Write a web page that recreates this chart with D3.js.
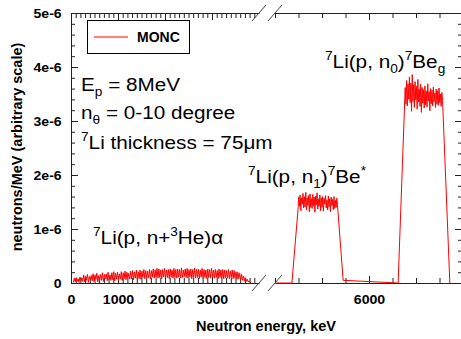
<!DOCTYPE html>
<html><head><meta charset="utf-8">
<script src="https://cdn.jsdelivr.net/npm/d3@7"></script>
<style>body{margin:0;background:#fff} svg{display:block}</style>
</head><body><svg id="c" width="461" height="339"></svg>
<script>
// ---------------- DATA (spectrum values in units of 1e-7 neutrons/MeV) ----------------
const valueUnit = 1e-7;
// 7Li(p, n+3He)alpha continuum : bins of 20 keV starting at 50 keV
const lowStart = 50, lowStep = 20;
const lowValues = [
  0.1,0.9,0.2,1.0,0.3,0.8,0.1,1.1,0.4,1.0,
  0.3,1.5,0.2,1.3,0.5,1.6,0.1,1.2,0.6,1.4,
  0.4,1.7,0.3,1.5,0.7,1.8,0.2,1.4,0.6,1.6,
  0.5,1.9,0.3,1.6,0.8,1.7,0.4,2.0,0.6,1.5,
  0.5,1.9,0.6,2.1,0.4,1.8,0.7,2.0,0.5,1.7,
  0.7,2.1,0.5,1.9,0.8,2.2,0.6,2.0,0.9,1.8,
  0.7,2.2,0.8,2.3,0.6,2.0,0.9,2.4,0.7,2.1,
  0.8,2.4,0.7,2.2,1.0,2.5,0.8,2.3,0.9,2.2,
  0.9,2.5,0.8,2.3,1.1,2.6,0.9,2.4,1.0,2.7,
  0.9,2.6,1.0,2.4,0.8,2.5,1.1,2.7,0.9,2.4,
  1.0,2.5,0.8,2.6,1.1,2.4,0.9,2.7,1.0,2.5,
  0.9,2.6,1.1,2.5,0.9,2.8,1.0,2.4,1.2,2.6,
  1.0,2.7,0.9,2.5,1.1,2.6,0.8,2.5,1.0,2.8,
  0.9,2.5,1.0,2.6,0.8,2.4,1.1,2.7,0.9,2.5,
  1.0,2.4,0.8,2.6,1.0,2.5,0.9,2.7,1.1,2.4,
  0.9,2.5,1.0,2.3,0.8,2.6,1.0,2.4,0.9,2.5,
  0.8,2.4,1.0,2.3,0.9,2.5,0.8,2.2,1.0,2.4,
  0.8,2.3,0.9,2.1,0.7,2.0,0.8,1.8,0.6,1.6,
  0.5,1.3,0.4,1.0,0.3,0.7,0.2,0.4,0.1,0.0];
// 7Li(p, n1)7Be* group : bins of 15 keV starting at 4490 keV
const n1Start = 4490, n1Step = 15;
const n1Values = [
  13.6,15.9,14.2,16.3,13.4,15.7,14.6,16.6,13.9,16.0,14.1,16.8,13.5,15.8,14.4,16.2,13.2,16.5,14.0,15.6,
  13.8,16.4,14.3,15.9,13.1,16.1,14.5,16.7,13.7,15.5,14.2,16.3,13.4,15.8,14.0,16.0,13.3,15.7,14.6,16.2,
  13.9,15.4,13.5,16.1,14.1,15.6,13.2,15.9,14.3,15.5,13.6,16.0,13.8,15.3,14.0,15.7,14.4];
// 7Li(p, n0)7Be_g group : bins of 15 keV starting at 6770 keV
const n0Start = 6770, n0Step = 15;
const n0Values = [
  36.2,33.1,37.5,32.8,36.9,34.0,38.1,33.4,37.0,31.8,38.6,33.6,36.7,32.5,37.3,33.9,36.4,32.2,37.7,33.5,
  35.9,32.7,36.8,31.6,36.2,33.3,35.8,32.4,36.5,33.0,35.5,32.6,36.9,33.7,35.4,31.9,36.0,33.2,35.7,32.8,
  36.3,33.6,35.2,32.5,35.9,33.1,35.6,32.9,36.1,33.4,35.0,32.7,35.3,33.8];
// edge points of the right-hand spectrum [energy keV, value]
const edgeBefore = [[4000,0],[4360,0]];
const edgeBetween = [[5450,0.5],[6620,0]];
const edgeAfter = [[7720,0]];

const yMajor = [0,1e-6,2e-6,3e-6,4e-6,5e-6];
const yLabels = ["0","1e-6","2e-6","3e-6","4e-6","5e-6"];
const xMajorLeft = [0,1000,2000,3000];
const xLabelsLeft = ["0","1000","2000","3000"];
const xMajorRight = [6000];
const xLabelsRight = ["6000"];
const seriesName = "MONC";

// ---------------- LAYOUT ----------------
const svg = d3.select("#c");
const L = 71, T = 13, B = 283, Rr = 462;
const xL = d3.scaleLinear().domain([0,4000]).range([71,259]);
const xR = d3.scaleLinear().domain([4000,8000]).range([275,463]);
const y = d3.scaleLinear().domain([0,5e-6]).range([B,T]);
const axisColor = "#222";
const FONT = "'Liberation Sans', Arial, Helvetica, sans-serif";

function styleAxis(g){ g.select(".domain").attr("stroke",axisColor).attr("stroke-width",1);
  g.selectAll(".tick line").attr("stroke",axisColor).attr("stroke-width",1); }

const minorL = d3.range(0,4001,100).filter(v=>v%1000!==0);
const minorR = d3.range(4000,7501,500).filter(v=>v!==6000);
const yMinor = d3.range(0,26).map(i=>i*2e-7).filter((v,i)=>i%5!==0);

function xAxes(scale, minors, majors, labels, pos){
  const gen = pos==="bottom" ? d3.axisBottom : d3.axisTop;
  const yy = pos==="bottom" ? B : T;
  const g1 = svg.append("g").attr("transform",`translate(0,${yy})`)
    .call(gen(scale).tickValues(minors).tickSize(-5).tickSizeOuter(0).tickFormat(""));
  styleAxis(g1);
  const g2 = svg.append("g").attr("transform",`translate(0,${yy})`)
    .call(gen(scale).tickValues(majors).tickSize(-7).tickSizeOuter(0)
      .tickFormat(pos==="bottom" ? ((d,i)=>labels[i]) : ""));
  styleAxis(g2);
  g2.select(".domain").remove();
  if (pos==="bottom"){
    g2.selectAll(".tick text").attr("y",21).attr("dy",0)
      .attr("transform","scale(1.18,1)")
      .style("font-family",FONT).style("font-size","12px").style("font-weight","bold").attr("fill","#000");
  }
}
xAxes(xL, minorL, xMajorLeft, xLabelsLeft, "bottom");
xAxes(xR, minorR, xMajorRight, xLabelsRight, "bottom");
xAxes(xL, minorL, xMajorLeft, xLabelsLeft, "top");
xAxes(xR, minorR, xMajorRight, xLabelsRight, "top");

// y axes
const gy1 = svg.append("g").attr("transform",`translate(${L},0)`)
  .call(d3.axisLeft(y).tickValues(yMinor).tickSize(-4).tickSizeOuter(0).tickFormat(""));
styleAxis(gy1);
const gy2 = svg.append("g").attr("transform",`translate(${L},0)`)
  .call(d3.axisLeft(y).tickValues(yMajor).tickSize(-7).tickSizeOuter(0).tickPadding(0).tickFormat((d,i)=>yLabels[i]));
styleAxis(gy2); gy2.select(".domain").remove();
gy2.selectAll(".tick text").attr("x",-8).attr("dy","0.35em").attr("transform","scale(1.17,1)")
  .style("font-family",FONT).style("font-size","12px").style("font-weight","bold").attr("fill","#000");
const gyr1 = svg.append("g").attr("transform",`translate(${Rr},0)`)
  .call(d3.axisRight(y).tickValues(yMinor).tickSize(-4).tickSizeOuter(0).tickFormat(""));
styleAxis(gyr1);
const gyr2 = svg.append("g").attr("transform",`translate(${Rr},0)`)
  .call(d3.axisRight(y).tickValues(yMajor).tickSize(-7).tickSizeOuter(0).tickFormat(""));
styleAxis(gyr2); gyr2.select(".domain").remove();

// break marks
[B, T].forEach(yy=>{
  [259, 275].forEach(cx=>{
    svg.append("line").attr("x1",cx-7).attr("y1",yy+8).attr("x2",cx+7).attr("y2",yy-8)
      .attr("stroke","#444").attr("stroke-width",1);
  });
});

// ---------------- DATA LINES ----------------
const lowPts = lowValues.map((v,i)=>[lowStart+i*lowStep, v]);
const rightPts = [].concat(edgeBefore,
  n1Values.map((v,i)=>[n1Start+i*n1Step, v]),
  edgeBetween,
  n0Values.map((v,i)=>[n0Start+i*n0Step, v]),
  edgeAfter);
const lineL = d3.line().x(d=>xL(d[0])).y(d=>y(d[1]*valueUnit));
const lineR = d3.line().x(d=>xR(d[0])).y(d=>y(d[1]*valueUnit));
svg.append("path").attr("d",lineL(lowPts)).attr("fill","none").attr("stroke","#ff0000").attr("stroke-width",1);
svg.append("path").attr("d",lineR(rightPts)).attr("fill","none").attr("stroke","#ff0000").attr("stroke-width",1);

// ---------------- TEXT ----------------
function rich(x, yb, parts, size, sx){
  const t = svg.append("text").attr("transform",`translate(${x},${yb}) scale(${sx},1)`)
    .style("font-family",FONT).style("font-size",size+"px").attr("fill","#000");
  let cur = 0;
  parts.forEach(p=>{
    const target = p.sup ? -0.42*size : (p.sub ? 0.28*size : 0);
    const ts = t.append("tspan").text(p.t).attr("dy", target-cur);
    if (p.sup || p.sub) ts.style("font-size",(0.66*size)+"px");
    cur = target;
  });
  return t;
}
const S = 18.5, SX = 1.12;
rich(81, 91, [{t:"E"},{t:"p",sub:true},{t:" = 8MeV"}], S, SX);
rich(81, 119, [{t:"n"},{t:"θ",sub:true},{t:" = 0-10 degree"}], S, SX);
rich(81, 149, [{t:"7",sup:true},{t:"Li thickness = 75μm"}], S, SX);
rich(93, 244, [{t:"7",sup:true},{t:"Li(p, n+"},{t:"3",sup:true},{t:"He)α"}], S, SX);
rich(248, 183, [{t:"7",sup:true},{t:"Li(p, n"},{t:"1",sub:true},{t:")"},{t:"7",sup:true},{t:"Be"},{t:"*",sup:true}], S, SX);
rich(325, 68, [{t:"7",sup:true},{t:"Li(p, n"},{t:"0",sub:true},{t:")"},{t:"7",sup:true},{t:"Be"},{t:"g",sub:true}], S, SX);

// legend
svg.append("rect").attr("x",87.5).attr("y",20.5).attr("width",102).attr("height",33)
  .attr("fill","#fff").attr("stroke","#000").attr("stroke-width",1);
svg.append("line").attr("x1",94).attr("x2",128).attr("y1",37).attr("y2",37).attr("stroke","#ff0000").attr("stroke-width",1.1);
svg.append("text").attr("x",137).attr("y",42).text(seriesName)
  .style("font-family",FONT).style("font-size","14px").style("font-weight","bold");

// axis titles
svg.append("text").attr("x",266).attr("y",331).attr("text-anchor","middle").text("Neutron energy, keV")
  .style("font-family",FONT).style("font-size","14.5px").style("font-weight","bold");
svg.append("text").attr("transform","translate(22,147) rotate(-90)").attr("text-anchor","middle")
  .text("neutrons/MeV (arbitrary scale)")
  .style("font-family",FONT).style("font-size","14.5px").style("font-weight","bold");
</script></body></html>
